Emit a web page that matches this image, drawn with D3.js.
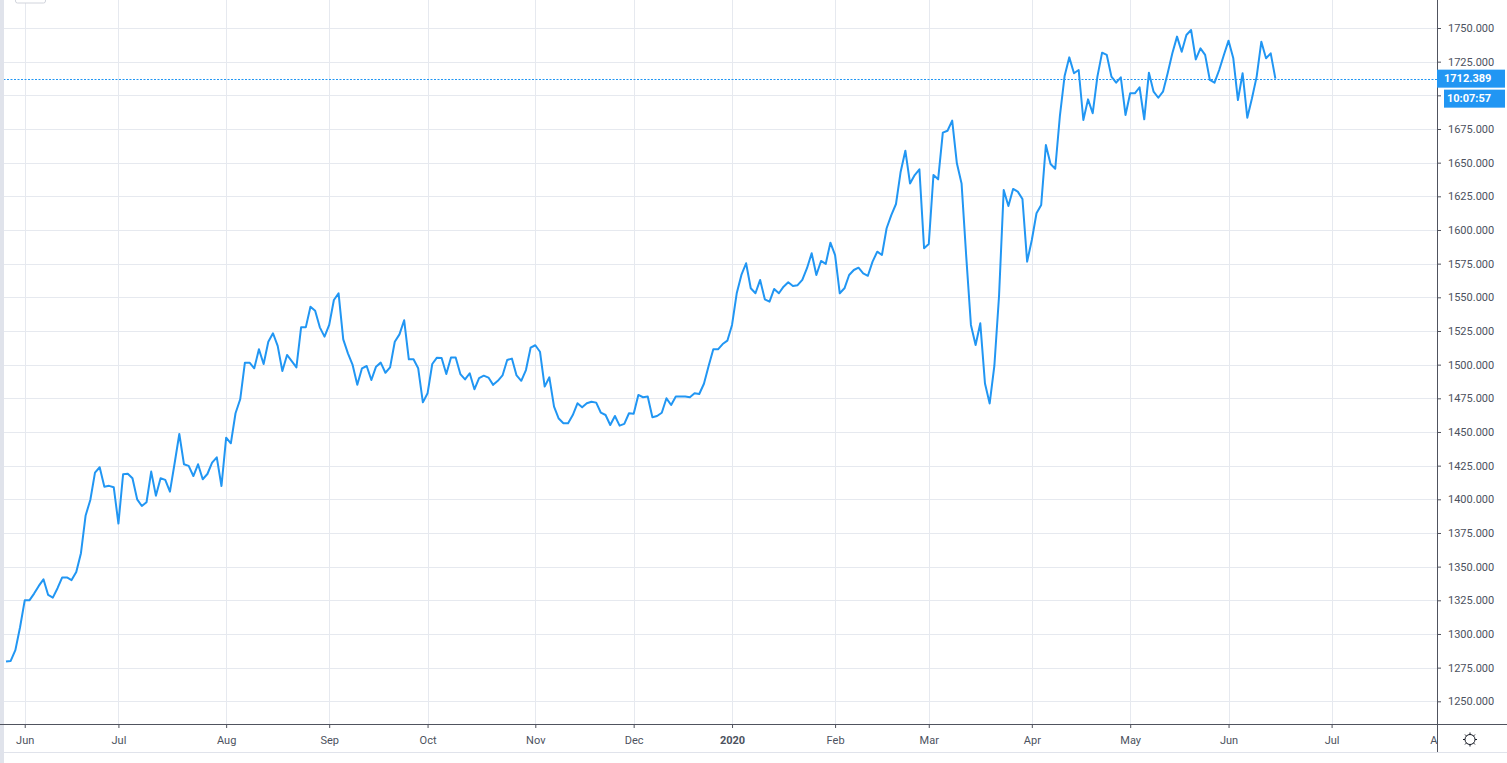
<!DOCTYPE html>
<html>
<head>
<meta charset="utf-8">
<script src="https://cdn.jsdelivr.net/npm/d3@7"></script>
<style>
  html, body { margin: 0; padding: 0; background: #fff; }
  svg { display: block; font-family: Roboto, "Open Sans", sans-serif; }
</style>
</head>
<body>
<svg id="chart" width="1507" height="763"></svg>
<script>
// daily closes, one array per month (trading days only)
const may19 = [1279.5, 1280, 1288, 1305];
const jun19 = [1325, 1325, 1330, 1335.7, 1340.6, 1329, 1327, 1334, 1342, 1342,
  1340, 1346, 1360, 1388, 1399.5, 1419.8, 1423.8, 1409.4, 1410, 1409];
const jul19 = [1382, 1418.6, 1419, 1415.6, 1400, 1395, 1397.8, 1420.6, 1402.7, 1415.6,
  1414.4, 1405.7, 1426.8, 1448.5, 1426, 1424.8, 1417.3, 1426, 1414.9, 1418.8,
  1427.2, 1431.2, 1409.9];
const aug19 = [1445.8, 1441.6, 1463.9, 1474.3, 1501.5, 1501.5, 1497.3, 1511.4, 1500.5, 1517,
  1523.3, 1513.9, 1495.3, 1507.2, 1502.7, 1498, 1527.7, 1527.7, 1543, 1540,
  1527.7, 1520.8];
const sep19 = [1529.5, 1548, 1553, 1518.8, 1508.4, 1499.8, 1485, 1497.3, 1499, 1488.6,
  1498.5, 1501.5, 1494, 1498, 1517, 1522.5, 1533, 1504, 1504, 1497.3, 1472];
const oct19 = [1478.7, 1500.5, 1505.2, 1505, 1493, 1505.3, 1505.3, 1493, 1489, 1493.6,
  1481.7, 1490, 1491.8, 1490.4, 1485, 1488, 1492, 1503.5, 1504.5, 1492,
  1488, 1496, 1512.6];
const nov19 = [1514.4, 1509.6, 1483.7, 1490.6, 1468.8, 1460, 1456.5, 1456.5, 1462.6, 1471.3,
  1468.3, 1471.3, 1472.5, 1471.8, 1464.3, 1462.6, 1455.2, 1461.9, 1454.7, 1456, 1463.9];
const dec19 = [1463.5, 1477.5, 1475.8, 1476.3, 1460.9, 1461.9, 1464.3, 1475, 1470, 1476.3,
  1476.3, 1476.3, 1475.8, 1478.7, 1478.2, 1485.8, 1499, 1511.4, 1511.4, 1515.3, 1517.8];
const jan20 = [1529.5, 1553, 1566.6, 1575.3, 1556.7, 1553, 1562.9, 1548.5, 1546.8, 1556.2,
  1553, 1557.9, 1561.2, 1558.4, 1559, 1562.9, 1571.6, 1582.7, 1566.6, 1577,
  1574.8, 1590.6];
const feb20 = [1581.4, 1553, 1556.7, 1566.6, 1570.3, 1572, 1567.8, 1566, 1576.5, 1583.9,
  1581.4, 1601.3, 1611.1, 1619.3, 1643.3, 1658.9, 1634.6, 1640.8, 1645, 1586.4];
const mar20 = [1589.6, 1640.8, 1637.6, 1672.3, 1673.7, 1681.2, 1649.5, 1634.6, 1580.2, 1529.5,
  1514.6, 1530.7, 1486, 1471.2, 1499, 1551, 1629.7, 1617.8, 1630.5, 1628.5,
  1623, 1576.5];
const apr20 = [1592.6, 1612.4, 1618.6, 1663.1, 1649, 1645.5, 1685, 1714.4, 1728.2, 1716.4,
  1718.8, 1681.7, 1697, 1686.7, 1713.9, 1731.7, 1730, 1713.9, 1709.4, 1713.4, 1685.4];
const may20 = [1701.5, 1701.5, 1706, 1682.2, 1716.8, 1702.7, 1698.2, 1702.7, 1716.4, 1731.2,
  1743.6, 1732.4, 1744.8, 1748.5, 1726.7, 1734.9, 1730, 1711.4, 1709.4, 1718.8, 1730];
const jun20 = [1740.6, 1727.8, 1696.5, 1716.4, 1683.4, 1697.8, 1713.9, 1739.8, 1727.5, 1731.2,
  1712.389];

const months = [may19, jun19, jul19, aug19, sep19, oct19, nov19, dec19,
  jan20, feb20, mar20, apr20, may20, jun20];
// labels for the start of each month after the first partial one
const monthLabels = ['Jun', 'Jul', 'Aug', 'Sep', 'Oct', 'Nov', 'Dec', '2020',
  'Feb', 'Mar', 'Apr', 'May', 'Jun', 'Jul', 'Aug'];
// trading days still to come (rest of Jun 2020, Jul 2020)
const futureBars = [11, 23];

const priceTicks = d3.range(1250, 1751, 25);
const lastPrice = 1712.389;
const lastTime = '10:07:57';

const W = 1507, H = 763;
const axisX = 1437, axisY = 724;
const blue = '#2196f3';
const grid = '#e6e9ef';
const textCol = '#4c525e';

// flatten
const data = [];
const monthStart = [];
months.forEach((m, mi) => {
  if (mi > 0) monthStart.push(data.length);
  m.forEach(v => data.push({ i: data.length, v }));
});
let n = data.length;
futureBars.forEach(c => { n += c; monthStart.push(n); });

const x = d3.scaleLinear().domain([-1.28, 305.5]).range([0, axisX]);
const y = d3.scaleLinear().domain([1250, 1750]).range([701.3, 28]);
const py = y(lastPrice);

const svg = d3.select('#chart');
svg.append('rect').attr('width', W).attr('height', H).attr('fill', '#fff');

const defs = svg.append('defs');
defs.append('clipPath').attr('id', 'plot')
  .append('rect').attr('x', 0).attr('y', 0).attr('width', axisX).attr('height', axisY);
// in the axis group's own coordinates (already shifted down to axisY)
defs.append('clipPath').attr('id', 'xaxis')
  .append('rect').attr('x', 0).attr('y', -2).attr('width', axisX).attr('height', 40);

// grid
const g = svg.append('g').attr('clip-path', 'url(#plot)');
g.selectAll('.hg').data(priceTicks).join('line')
  .attr('x1', 0).attr('x2', axisX)
  .attr('y1', d => Math.round(y(d)) + 0.5).attr('y2', d => Math.round(y(d)) + 0.5)
  .attr('stroke', grid);
g.selectAll('.vg').data(monthStart).join('line')
  .attr('x1', d => Math.round(x(d)) + 0.5).attr('x2', d => Math.round(x(d)) + 0.5)
  .attr('y1', 0).attr('y2', axisY)
  .attr('stroke', grid);

// last price dotted line
g.append('line')
  .attr('x1', 0).attr('x2', axisX)
  .attr('y1', Math.round(py) + 0.5).attr('y2', Math.round(py) + 0.5)
  .attr('stroke', blue).attr('stroke-dasharray', '2,1.5');

// series
g.append('path').datum(data)
  .attr('fill', 'none')
  .attr('stroke', blue)
  .attr('stroke-width', 2)
  .attr('stroke-linejoin', 'round')
  .attr('d', d3.line().x(d => x(d.i)).y(d => y(d.v)));

// left edge strip and top-left box
svg.append('rect').attr('x', 0).attr('y', 0).attr('width', 4).attr('height', H).attr('fill', '#e0e3eb');
svg.append('rect').attr('x', 15.5).attr('y', -6).attr('width', 30).attr('height', 9).attr('rx', 2)
  .attr('fill', '#fff').attr('stroke', '#d1d4dc');

// bottom axis
const xAxis = svg.append('g')
  .attr('transform', `translate(0,${axisY})`)
  .attr('clip-path', 'url(#xaxis)')
  .call(d3.axisBottom(x).tickValues(monthStart).tickSize(4).tickPadding(8)
    .tickFormat((d, i) => monthLabels[i]));
xAxis.select('.domain').remove();
xAxis.selectAll('.tick line').attr('stroke', '#50535e');
xAxis.selectAll('.tick text')
  .attr('fill', textCol).attr('font-size', 11).attr('font-family', 'Roboto, sans-serif')
  .attr('font-weight', d => monthLabels[monthStart.indexOf(d)] === '2020' ? 'bold' : null);

svg.append('line').attr('x1', 0).attr('x2', W).attr('y1', axisY + 0.5).attr('y2', axisY + 0.5)
  .attr('stroke', '#50535e');
svg.append('line').attr('x1', 0).attr('x2', W).attr('y1', 752.5).attr('y2', 752.5)
  .attr('stroke', '#e0e3eb');

// right axis; labels hidden behind the last-price boxes are not drawn
const covered = d => y(d) > py - 10 && y(d) < py + 30;
const yAxis = svg.append('g')
  .attr('transform', `translate(${axisX},0)`)
  .call(d3.axisRight(y).tickValues(priceTicks).tickSize(4).tickPadding(7)
    .tickFormat(d => covered(d) ? '' : d3.format('.3f')(d)));
yAxis.select('.domain').remove();
yAxis.selectAll('.tick line').attr('stroke', '#50535e');
yAxis.selectAll('.tick text')
  .attr('fill', textCol).attr('font-size', 11).attr('font-family', 'Roboto, sans-serif');

svg.append('line').attr('x1', axisX + 0.5).attr('x2', axisX + 0.5).attr('y1', 0).attr('y2', 752)
  .attr('stroke', '#50535e');

// last price labels
svg.append('rect').attr('x', axisX).attr('y', py - 9).attr('width', 68).attr('height', 18).attr('fill', blue);
svg.append('text').attr('x', axisX + 7).attr('y', py).attr('dy', '0.35em')
  .attr('fill', '#fff').attr('font-size', 11).attr('font-weight', 'bold')
  .text(d3.format('.3f')(lastPrice));
svg.append('rect').attr('x', axisX + 7).attr('y', py + 11).attr('width', 61).attr('height', 18).attr('fill', blue);
svg.append('text').attr('x', axisX + 10).attr('y', py + 20).attr('dy', '0.35em')
  .attr('fill', '#fff').attr('font-size', 11).attr('font-weight', 'bold')
  .text(lastTime);

// settings icon
const gear = svg.append('g').attr('transform', 'translate(1470,739.5)')
  .attr('stroke', '#131722').attr('fill', 'none');
gear.append('circle').attr('r', 5);
d3.range(8).forEach(k => {
  const a = k * Math.PI / 4;
  gear.append('line')
    .attr('x1', Math.cos(a) * 5).attr('y1', Math.sin(a) * 5)
    .attr('x2', Math.cos(a) * 7).attr('y2', Math.sin(a) * 7);
});
</script>
</body>
</html>
